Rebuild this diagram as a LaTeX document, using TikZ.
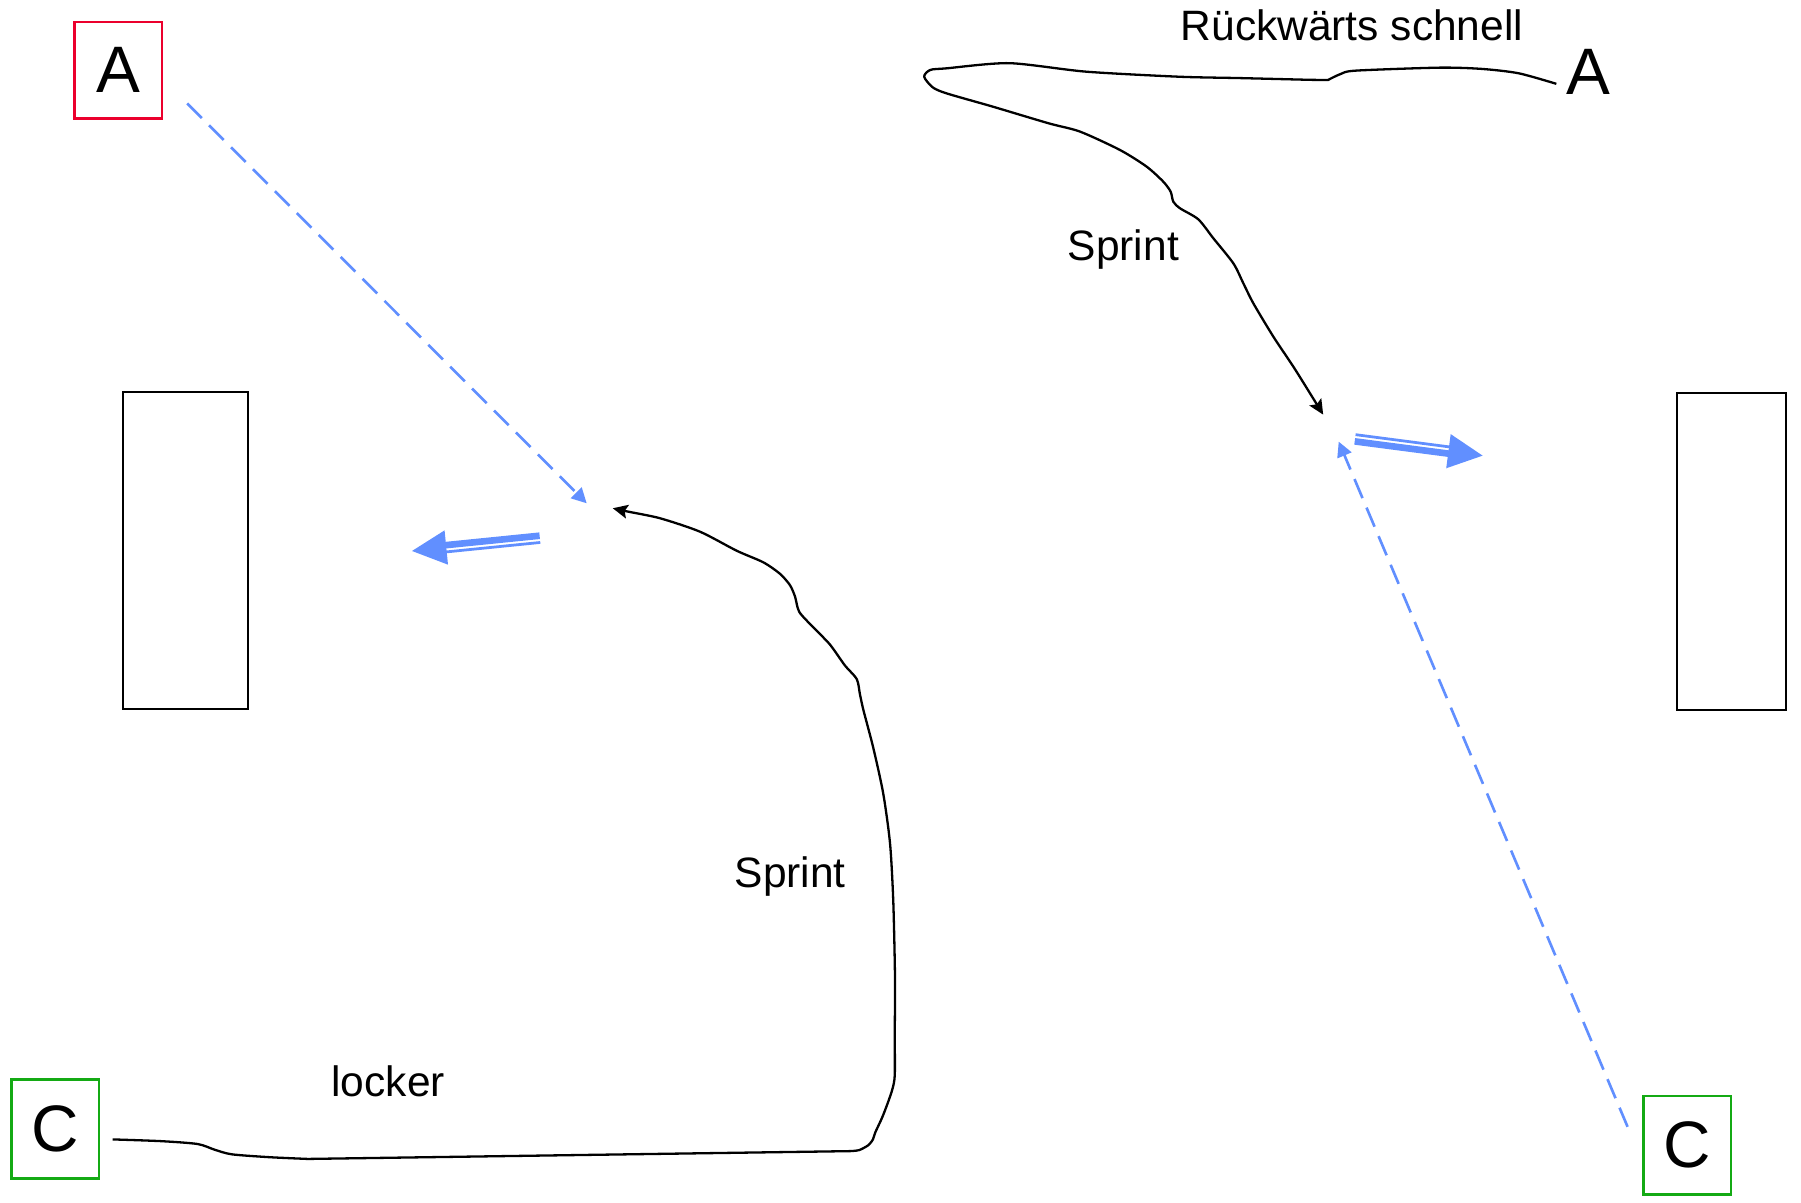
\documentclass[tikz,border=0pt]{standalone}
\usepackage{fontspec}
\setmainfont{Liberation Sans}
\usetikzlibrary{arrows.meta,calc}
\definecolor{runblue}{RGB}{97,143,255}
\definecolor{boxred}{RGB}{235,0,45}
\definecolor{boxgreen}{RGB}{20,170,20}
\tikzset{
  player/.style={draw, line width=1.1pt, minimum width=38pt, minimum height=42pt, inner sep=0pt, font=\fontsize{28.6}{30}\selectfont},
  plain/.style={inner sep=0pt, font=\fontsize{28.6}{30}\selectfont},
  goalbox/.style={draw, line width=0.9pt, inner sep=0pt},
  lbl/.style={inner sep=0pt, font=\fontsize{18.5}{20}\selectfont},
  passline/.style={draw=runblue, line width=1.15pt, dash pattern=on 9pt off 4.5pt, -{Triangle[length=6.5pt,width=6.5pt]}},
  runline/.style={black, line width=1pt, line join=round, -{Stealth[length=6.5pt,width=6pt,inset=1.2pt]}},
}
\newcommand\movearrow[2]{%
  \coordinate (mb) at ($(#2)!15pt!(#1)$);
  \coordinate (me) at ($(#2)!13.5pt!(#1)$);
  \fill[runblue] (#2) -- ($(mb)!7.5pt!90:(#2)$) -- ($(mb)!7.5pt!-90:(#2)$) -- cycle;
  \draw[runblue, line width=2.9pt] ($(#1)!1.05pt!-90:(#2)$) -- ($(me)!1.05pt!-90:(#2)$);
  \draw[runblue, line width=1.2pt] ($(#1)!1.9pt!90:(#2)$) -- ($(me)!1.9pt!90:(#2)$);
}
\begin{document}
\begin{tikzpicture}[x=0.5pt,y=-0.5pt]
\useasboundingbox (0,0) rectangle (1568,1047);
% players
\node[player, draw=boxred] (A1) at (103,61) {A};
\node[player, draw=boxgreen, minimum height=43pt] (C1) at (48,983) {C};
\node[player, draw=boxgreen, minimum height=43pt] (C2) at (1469,997) {C};
\node[plain] (A2) at (1383,63) {A};
% goals
\node[goalbox, minimum width=54.5pt, minimum height=138pt] (G1) at (161.5,479) {};
\node[goalbox, minimum width=47.5pt, minimum height=138pt] (G2) at (1507.5,480) {};
% labels
\node[lbl] (t1) at (1177,22) {Rückwärts schnell};
\node[lbl] (t2) at (978,217) {Sprint};
\node[lbl] (t3) at (688,763) {Sprint};
\node[lbl] (t4) at (338,941) {locker};
% passes
\coordinate (pA1s) at (163,90);
\coordinate (pA1e) at (510.8,438.2);
\coordinate (pC2s) at (1417,981);
\coordinate (pC2e) at (1165.5,384.5);
\draw[passline] (pA1s) -- (pA1e);
\draw[passline] (pC2s) -- (pC2e);
% runs
\coordinate (rC1s) at (98,992);
\coordinate (rC1e) at (533.5,442.5);
\draw[runline] plot[smooth, tension=0.45] coordinates {(rC1s) (140,993.5) (172,996) (187,1001) (202,1005) (235,1007.5) (268,1009)}
  -- plot[smooth, tension=0.45] coordinates {(740,1002.2) (748,1001.3) (756,997) (760,992) (762,986) (768,973) (773,960) (777,948) (779,936) (779,900) (779.2,851) (777.7,784.5) (774.9,734.5) (769,691.1) (760.3,651.1) (751.6,617.8) (748.7,604.5) (745.9,591.2) (735.7,579.5) (722.6,561.2) (708.1,546.2) (695.9,532.8) (692.2,519.5) (687.8,509.5) (679.1,499.6) (664.6,489.6) (641.4,479.5) (609.4,462.9) (574.6,451.2) (545.6,445.2) (rC1e)};
\coordinate (rA2s) at (1355,73);
\coordinate (rA2e) at (1152,361);
\draw[runline] plot[smooth, tension=0.45] coordinates {(rA2s) (1322.1,63.8) (1290,60) (1253.3,58.9) (1180.4,61.5) (1167,64.5) (1156.1,69.7)}
  -- plot[smooth, tension=0.45] coordinates {(1140,69.5) (1080,68) (1026.5,66.8) (945.5,62.4) (878.7,55) (824.1,59.5) (809.9,60.9) (804.6,66.8) (812,76) (824.1,81.3) (864.5,92.9) (913.1,107.4) (940.3,114.6) (975.1,130.6) (998.3,145.1) (1012.8,158.2) (1019.2,166.9) (1021.5,175.6) (1027.4,181.4) (1043.3,191) (1056.4,207.5) (1073.8,229.3) (1082.5,246.7) (1091.2,264.1) (1108.6,293.1) (1126,319.2) (1140.5,342.4) (rA2e)};
% movement arrows
\coordinate (mL1) at (470,468.5);
\coordinate (mL2) at (358.7,479.7);
\movearrow{mL1}{mL2}
\coordinate (mR1) at (1179.7,382.2);
\coordinate (mR2) at (1290.8,396.7);
\movearrow{mR1}{mR2}
\end{tikzpicture}
\end{document}
